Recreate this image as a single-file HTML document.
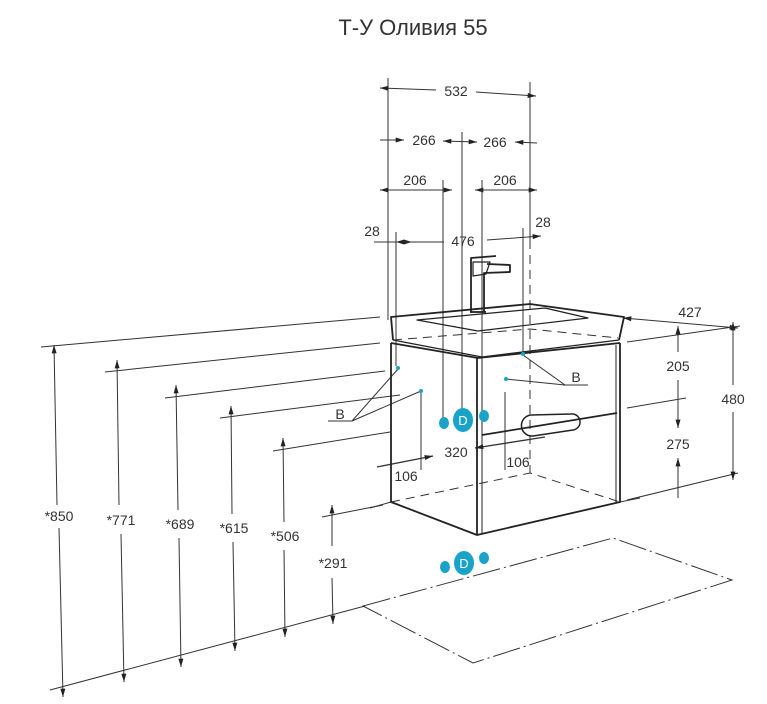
<!DOCTYPE html>
<html><head><meta charset="utf-8"><style>
html,body{margin:0;padding:0;background:#fff}
svg{display:block}
text{font-family:"Liberation Sans","DejaVu Sans",sans-serif;fill:#333}
</style></head><body>
<svg width="767" height="704" viewBox="0 0 767 704" xmlns="http://www.w3.org/2000/svg">
<defs>
<marker id="a" viewBox="0 0 10 6" refX="10" refY="3" markerWidth="9" markerHeight="5" orient="auto-start-reverse" markerUnits="userSpaceOnUse"><path d="M0,0 L10,3 L0,6z" fill="#222"/></marker>
</defs>
<text x="413" y="35" font-size="22" text-anchor="middle" fill="#444">Т-У Оливия 55</text>

<g stroke="#333" stroke-width="1" fill="none">
<line x1="388" y1="78" x2="388" y2="320"/>
<line x1="530" y1="82" x2="530" y2="240"/>
<line x1="380" y1="88" x2="436" y2="90" marker-start="url(#a)"/>
<line x1="476" y1="92" x2="536" y2="96" marker-end="url(#a)"/>
<line x1="380" y1="140" x2="404" y2="140" marker-end="url(#a)"/>
<line x1="443" y1="141" x2="477" y2="142" marker-start="url(#a)" marker-end="url(#a)"/>
<line x1="515" y1="142" x2="537" y2="143" marker-start="url(#a)"/>
<line x1="462" y1="132" x2="462" y2="410"/>
<line x1="380" y1="190" x2="452" y2="190" marker-start="url(#a)" marker-end="url(#a)"/>
<line x1="475" y1="190" x2="537" y2="190" marker-start="url(#a)" marker-end="url(#a)"/>
<line x1="443" y1="180" x2="443" y2="418"/>
<line x1="482" y1="180" x2="482" y2="410"/>
<line x1="374" y1="242" x2="412" y2="242" marker-end="url(#a)"/>
<line x1="396" y1="242" x2="444" y2="242" marker-start="url(#a)"/>
<line x1="487" y1="240" x2="541" y2="236" marker-end="url(#a)"/>
<line x1="396" y1="232" x2="396" y2="366"/>
<line x1="523" y1="228" x2="523" y2="352"/>
<line x1="623" y1="318" x2="738" y2="328" marker-start="url(#a)" marker-end="url(#a)"/>
<line x1="627" y1="342" x2="740" y2="326"/>
<line x1="627" y1="408" x2="686" y2="398"/>
<line x1="627" y1="500" x2="738" y2="473"/>
<line x1="733" y1="322" x2="733" y2="385" marker-start="url(#a)"/>
<line x1="733" y1="412" x2="733" y2="480" marker-end="url(#a)"/>
<line x1="678" y1="326" x2="678" y2="352" marker-start="url(#a)"/>
<line x1="678" y1="380" x2="678" y2="428" marker-end="url(#a)"/>
<line x1="678" y1="458" x2="678" y2="498" marker-start="url(#a)"/>
<line x1="41" y1="347" x2="380" y2="317"/>
<line x1="105" y1="372" x2="380" y2="343"/>
<line x1="165" y1="398" x2="385" y2="371"/>
<line x1="220" y1="418" x2="400" y2="395"/>
<line x1="273" y1="451" x2="390" y2="432"/>
<line x1="322" y1="517" x2="383" y2="505"/>
<line x1="50" y1="690" x2="365" y2="606"/>
<line x1="54" y1="345" x2="57" y2="505" marker-start="url(#a)"/>
<line x1="59" y1="528" x2="63" y2="697" marker-end="url(#a)"/>
<line x1="117" y1="360" x2="119" y2="505" marker-start="url(#a)"/>
<line x1="121" y1="534" x2="124" y2="682" marker-end="url(#a)"/>
<line x1="176" y1="385" x2="178" y2="510" marker-start="url(#a)"/>
<line x1="179" y1="538" x2="181" y2="667" marker-end="url(#a)"/>
<line x1="231" y1="406" x2="232" y2="514" marker-start="url(#a)"/>
<line x1="233" y1="542" x2="235" y2="651" marker-end="url(#a)"/>
<line x1="283" y1="438" x2="284" y2="522" marker-start="url(#a)"/>
<line x1="284" y1="550" x2="285" y2="637" marker-end="url(#a)"/>
<line x1="332" y1="505" x2="332" y2="546" marker-start="url(#a)"/>
<line x1="332" y1="578" x2="333" y2="624" marker-end="url(#a)"/>
<polygon points="363,606 613,538 732,580 473,663" stroke-dasharray="28,4,2,4"/>
<g stroke-dasharray="9,6">
<polyline points="393,340 530,329 618,338"/>
<polyline points="391,502 530,473 620,502"/>
<line x1="530" y1="240" x2="530" y2="473"/>
</g>
<line x1="370" y1="508" x2="391" y2="502"/>
<line x1="620" y1="502" x2="640" y2="498"/>
<line x1="377" y1="467" x2="433" y2="456" stroke-width="1.3" marker-end="url(#a)"/>
<line x1="475" y1="448" x2="545" y2="437" stroke-width="1.3" marker-start="url(#a)"/>
<line x1="421" y1="390" x2="421" y2="470"/>
<line x1="505" y1="392" x2="505" y2="470"/>
<line x1="328" y1="421" x2="352" y2="421"/>
<line x1="352" y1="421" x2="398" y2="369"/>
<line x1="352" y1="421" x2="421" y2="391"/>
<line x1="563" y1="385" x2="588" y2="385"/>
<line x1="565" y1="385" x2="523" y2="355"/>
<line x1="565" y1="385" x2="506" y2="379"/>
</g>

<g stroke="#222" stroke-width="1.8" fill="none" stroke-linejoin="round">
<polyline points="391,343 391,502 477,535 620,502 620,343"/>
<polyline points="391,343 478,358 620,343"/>
<line x1="477" y1="358" x2="477" y2="535"/>
<line x1="482" y1="360" x2="482" y2="533" stroke-width="1"/>
<line x1="616" y1="345" x2="616" y2="503" stroke-width="1"/>
<line x1="482" y1="435" x2="617" y2="413"/>
<path d="M531,415 L571,414 A8,8 0 0 1 573,430 L533,436 A8,8 0 0 1 531,415z" stroke-width="1.5"/>
<polyline points="393,340 391,317 530,304 624,317 619,340"/>
<polyline points="393,340 482,357 619,340" stroke-width="1.2"/>
<polygon points="417,320 545,308 588,318 478,331" stroke-width="1.2"/>
<path d="M471,312 L471,258 L496,256 M484,312 L484,273 L510,272 L510,265 L487,264" stroke-width="1.8"/>
<path d="M473,262 L490,262 L486,274 L473,276z" stroke-width="1.2"/>
<line x1="470" y1="312" x2="486" y2="312"/>
</g>

<g fill="#1aa3c9">
<circle cx="398" cy="368" r="2"/><circle cx="421" cy="391" r="2"/>
<circle cx="523" cy="354" r="2"/><circle cx="506" cy="379" r="2"/>
<ellipse cx="444" cy="423" rx="5" ry="6"/><ellipse cx="463" cy="420" rx="10" ry="12"/><ellipse cx="484" cy="416" rx="5" ry="6"/>
<ellipse cx="445" cy="567" rx="5" ry="6"/><ellipse cx="464" cy="563" rx="10" ry="12"/><ellipse cx="484" cy="558" rx="5" ry="6"/>
</g>
<g font-size="13" text-anchor="middle">
<text x="463" y="425" style="fill:#fff">D</text><text x="464" y="568" style="fill:#fff">D</text>
</g>

<g font-size="14" text-anchor="middle">
<text x="456" y="96">532</text>
<text x="424" y="145">266</text><text x="495" y="147">266</text>
<text x="415" y="185">206</text><text x="505" y="185">206</text>
<text x="372" y="236">28</text><text x="463" y="246">476</text><text x="543" y="227">28</text>
<text x="690" y="317">427</text>
<text x="678" y="371">205</text><text x="678" y="449">275</text>
<text x="733" y="404">480</text>
<text x="59" y="521">*850</text><text x="121" y="525">*771</text><text x="180" y="529">*689</text>
<text x="234" y="533">*615</text><text x="285" y="541">*506</text><text x="333" y="568">*291</text>
<text x="406" y="481">106</text><text x="456" y="457">320</text><text x="518" y="467">106</text>
<text x="340" y="419">B</text><text x="576" y="382">B</text>
</g>
</svg>
</body></html>
